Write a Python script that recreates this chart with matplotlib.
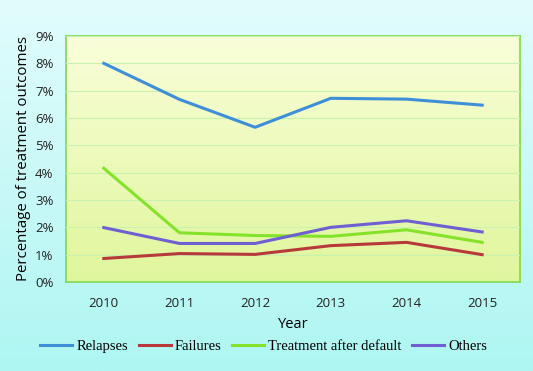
import numpy as np
import matplotlib
matplotlib.use('Agg')
from matplotlib import pyplot as plt
from matplotlib.colors import LinearSegmentedColormap
from matplotlib.ticker import PercentFormatter

# data
years = ['2010', '2011', '2012', '2013', '2014', '2015']
relapses = [8.0, 6.68, 5.66, 6.72, 6.69, 6.47]
failures = [0.86, 1.04, 1.01, 1.33, 1.45, 1.0]
after_default = [4.16, 1.8, 1.70, 1.67, 1.91, 1.45]
others = [1.99, 1.41, 1.41, 2.0, 2.24, 1.83]

fig = plt.figure(figsize=(5.33, 3.71), dpi=100)

# figure background gradient
bg = fig.add_axes([0, 0, 1, 1], zorder=-10)
bg_cmap = LinearSegmentedColormap.from_list('bg', ['#aef6f2', '#e2fcfd'])
bg.imshow(np.linspace(0, 1, 256).reshape(-1, 1), cmap=bg_cmap, aspect='auto',
          origin='lower', extent=[0, 1, 0, 1])
bg.axis('off')

ax = fig.add_axes([0.1238, 0.2399, 0.8518, 0.6631])
x = np.arange(len(years))

# plot area gradient
pa_cmap = LinearSegmentedColormap.from_list('pa', ['#e0f69c', '#f9fed9'])
ax.imshow(np.linspace(0, 1, 256).reshape(-1, 1), cmap=pa_cmap, aspect='auto',
          origin='lower', extent=[-0.5, 5.5, 0, 9], zorder=0)

ax.plot(x, relapses, color='#3f8fd8', lw=2.2, label='Relapses', zorder=3)
ax.plot(x, failures, color='#b8393c', lw=2.2, label='Failures', zorder=3)
ax.plot(x, after_default, color='#84e22a', lw=2.2, label='Treatment after default', zorder=3)
ax.plot(x, others, color='#6f5fd2', lw=2.2, label='Others', zorder=3)

ax.set_xlim(-0.5, 5.5)
ax.set_ylim(0, 9)
ax.set_yticks(np.arange(0, 10, 1))
ax.yaxis.set_major_formatter(PercentFormatter(decimals=0))
ax.set_xticks(x)
ax.set_xticklabels(years)
ax.grid(axis='y', color='#c8f2b0', lw=0.8, zorder=1)
ax.set_axisbelow(False)
for sp in ax.spines.values():
    sp.set_color('#7ed84a')
    sp.set_linewidth(1.2)
ax.tick_params(length=0, labelsize=9.5, colors='#222222')
ax.tick_params(axis='x', pad=11)
ax.tick_params(axis='y', pad=9)
for lab in ax.get_xticklabels() + ax.get_yticklabels():
    lab.set_family('Open Sans')

ax.set_xlabel('Year', fontsize=10.5, family='Open Sans', labelpad=5)
ax.set_ylabel('Percentage of treatment outcomes', fontsize=10.8, family='Open Sans', labelpad=3)

fig.legend(loc='center', bbox_to_anchor=(0.495, 0.067), ncol=4, frameon=False,
           prop={'family': 'Liberation Serif', 'size': 10.5}, handlelength=2.2,
           columnspacing=0.7, handletextpad=0.3)

fig.savefig('out.png', dpi=100)
